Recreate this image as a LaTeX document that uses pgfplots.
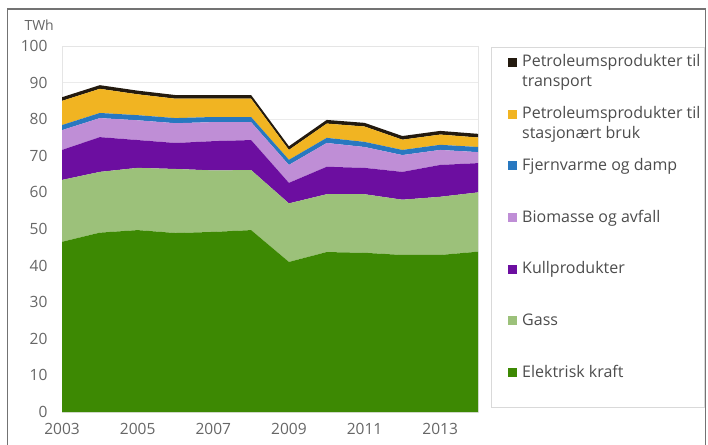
\documentclass[border=0pt]{standalone}
\usepackage{pgfplots}
\pgfplotsset{compat=1.18}
\usepackage{pgfplotstable}
\usepackage{fontspec}
\setmainfont{Open Sans}

\definecolor{elkraft}{RGB}{61,137,3}
\definecolor{gass}{RGB}{156,193,122}
\definecolor{kull}{RGB}{108,14,160}
\definecolor{biomasse}{RGB}{191,142,214}
\definecolor{fjernvarme}{RGB}{40,120,192}
\definecolor{stasjonaer}{RGB}{241,180,34}
\definecolor{transport}{RGB}{35,26,15}

% Energibruk etter energivare, TWh
\pgfplotstableread{
year  el    gass  kull  bio  fjern stas trans
2003  46.5  16.9  8.2   5.4  1.4   6.6  1.0
2004  49.0  16.6  9.5   5.2  1.4   6.6  1.0
2005  49.7  17.0  7.6   5.4  1.4   5.7  1.0
2006  48.9  17.5  7.1   5.4  1.4   5.3  1.0
2007  49.2  16.8  8.0   5.2  1.4   5.0  1.0
2008  49.7  16.4  8.2   4.9  1.4   5.0  1.0
2009  41.0  16.0  5.6   4.9  1.4   2.7  1.0
2010  43.7  15.8  7.5   6.5  1.4   3.9  1.0
2011  43.5  16.0  7.2   5.7  1.4   4.2  1.0
2012  42.9  15.1  7.6   4.6  1.4   2.8  1.0
2013  42.9  15.9  8.7   4.1  1.4   2.8  1.0
2014  43.8  16.2  8.0   3.0  1.4   2.6  1.0
}\energi

\begin{document}
\begin{tikzpicture}[x=1pt,y=1pt]
\useasboundingbox (0,0) rectangle (708,444);
\draw[black!55, line width=1.4pt] (7.5,435) rectangle (705.5,-20);
\node[anchor=west, font=\fontsize{14}{16}\selectfont, text=black!60] at (21,419) {TWh};
\begin{axis}[
  at={(62pt,32pt)}, anchor=south west,
  scale only axis, width=416pt, height=366pt,
  xmin=2003, xmax=2014, ymin=0, ymax=100,
  xtick={2003,2005,...,2013},
  xticklabels={2003,2005,2007,2009,2011,2013},
  ytick={0,10,...,100},
  major tick length=0pt,
  ymajorgrids, grid style={black!8, line width=0.8pt},
  axis line style={black!10, line width=0.8pt},
  tick label style={font=\fontsize{15.5}{18}\selectfont, text=black!60},
  /pgf/number format/assume math mode=true,
  yticklabel style={xshift=-11pt},
  xticklabel style={yshift=-8pt},
  stack plots=y,
  every axis plot/.append style={draw=none},
]
\addplot[fill=elkraft] table[x=year, y=el] {\energi} \closedcycle;
\addplot[fill=gass] table[x=year, y=gass] {\energi} \closedcycle;
\addplot[fill=kull] table[x=year, y=kull] {\energi} \closedcycle;
\addplot[fill=biomasse] table[x=year, y=bio] {\energi} \closedcycle;
\addplot[fill=fjernvarme] table[x=year, y=fjern] {\energi} \closedcycle;
\addplot[fill=stasjonaer] table[x=year, y=stas] {\energi} \closedcycle;
\addplot[fill=transport] table[x=year, y=trans] {\energi} \closedcycle;
\end{axis}
% legend box with colour keys; each text starts on the key's baseline
\draw[black!15, line width=0.8pt] (491,397) rectangle (704,37);
\begin{scope}[every node/.style={anchor=base west, inner sep=0pt,
    font=\fontsize{16}{20}\selectfont, text=black!70}]
\foreach \col/\txt [count=\i from 0] in {
    transport/{Petroleumsprodukter til\\transport},
    stasjonaer/{Petroleumsprodukter til\\stasjonært bruk},
    fjernvarme/{Fjernvarme og damp},
    biomasse/{Biomasse og avfall},
    kull/{Kullprodukter},
    gass/{Gass},
    elkraft/{Elektrisk kraft}} {
  \pgfmathsetmacro{\yb}{377-51.7*\i}
  \fill[\col] (508,\yb) rectangle ++(9,9);
  \node at (522,\yb) {\parbox[t]{180pt}{\raggedright\txt}};
}
\end{scope}
\end{tikzpicture}
\end{document}
